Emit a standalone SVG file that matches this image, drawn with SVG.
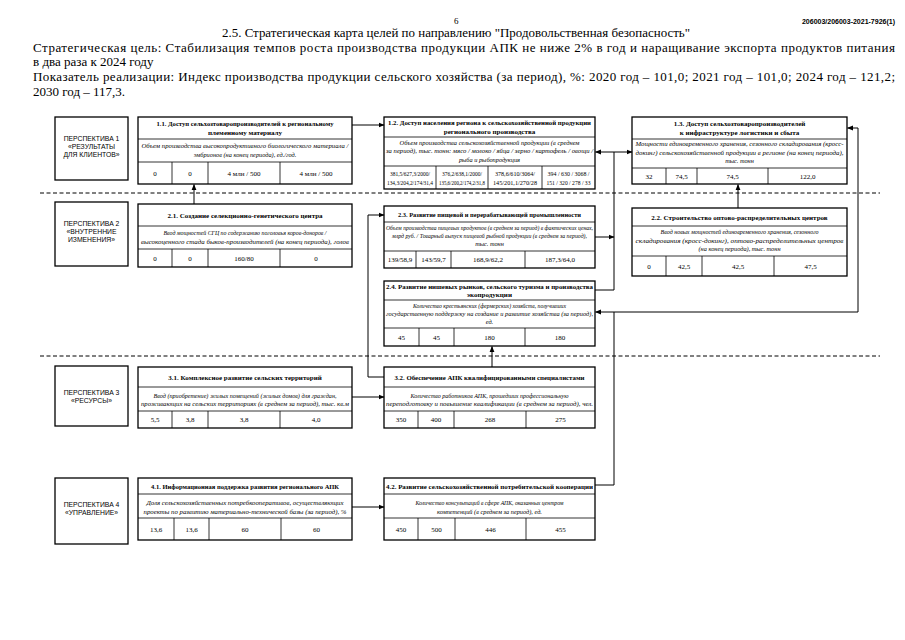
<svg xmlns="http://www.w3.org/2000/svg" width="905" height="640" viewBox="0 0 905 640" font-family="'Liberation Serif', 'DejaVu Serif', serif">
<defs>
<marker id="ah" markerWidth="6" markerHeight="6" refX="5.5" refY="3" orient="auto" markerUnits="userSpaceOnUse"><path d="M0,0.6 L6,3 L0,5.4 Z" fill="#000"/></marker>
</defs>
<style>
.hd{font-family:'Liberation Serif','DejaVu Serif',serif;font-size:13px;fill:#000}
.box{fill:#fff;stroke:#000;stroke-width:1.3}
.dv{stroke:#000;stroke-width:0.8;fill:none}
.t{font-family:'Liberation Serif','DejaVu Serif',serif;font-size:7px;font-weight:bold;text-anchor:middle;fill:#000}
.i{font-family:'Liberation Serif','DejaVu Serif',serif;font-size:6.3px;font-style:italic;text-anchor:middle;fill:#000}
.v{font-family:'Liberation Serif','DejaVu Serif',serif;font-size:7px;text-anchor:middle;fill:#000}
.v2{font-family:'Liberation Serif','DejaVu Serif',serif;font-size:5.8px;text-anchor:middle;fill:#000}
.p{font-family:'Liberation Sans','DejaVu Sans',sans-serif;font-size:6.8px;text-anchor:middle;fill:#000}
.c{fill:none;stroke:#000;stroke-width:1}
.dash{fill:none;stroke:#000;stroke-width:1;stroke-dasharray:4 2.5}
</style>
<rect width="905" height="640" fill="#fff"/>
<g id="header">
<text class="hd" x="454" y="24" style="font-size:9px">6</text>
<text x="895" y="24" text-anchor="end" style="font-family:'Liberation Sans','DejaVu Sans',sans-serif;font-size:7px;font-weight:bold">206003/206003-2021-7926(1)</text>
<text class="hd" x="456" y="37" text-anchor="middle" textLength="468" lengthAdjust="spacingAndGlyphs">2.5. Стратегическая карта целей по направлению "Продовольственная безопасность"</text>
<text class="hd" x="33" y="52" textLength="862" lengthAdjust="spacing">Стратегическая цель: Стабилизация темпов роста производства продукции АПК не ниже 2% в год и наращивание экспорта продуктов питания</text>
<text class="hd" x="33" y="66">в два раза к 2024 году</text>
<text class="hd" x="33" y="81" textLength="862" lengthAdjust="spacing">Показатель реализации: Индекс производства продукции сельского хозяйства (за период), %: 2020 год – 101,0; 2021 год – 101,0; 2024 год – 121,2;</text>
<text class="hd" x="33" y="96">2030 год – 117,3.</text>
</g>
<g id="separators">
<path class="dash" d="M40,193H880"/>
<path class="dash" d="M40,356H880"/>
</g>
<g id="p1">
<rect class="box" x="55" y="117" width="73" height="63"/>
<text class="p" x="91.5" y="141">ПЕРСПЕКТИВА 1</text>
<text class="p" x="91.5" y="149">«РЕЗУЛЬТАТЫ</text>
<text class="p" x="91.5" y="157">ДЛЯ КЛИЕНТОВ»</text>
</g>
<g id="p2">
<rect class="box" x="55" y="202" width="73" height="64"/>
<text class="p" x="91.5" y="226">ПЕРСПЕКТИВА 2</text>
<text class="p" x="91.5" y="234">«ВНУТРЕННИЕ</text>
<text class="p" x="91.5" y="242">ИЗМЕНЕНИЯ»</text>
</g>
<g id="p3">
<rect class="box" x="55" y="366" width="73" height="60"/>
<text class="p" x="91.5" y="395">ПЕРСПЕКТИВА 3</text>
<text class="p" x="91.5" y="403">«РЕСУРСЫ»</text>
</g>
<g id="p4">
<rect class="box" x="55" y="478" width="73" height="66"/>
<text class="p" x="91.5" y="507">ПЕРСПЕКТИВА 4</text>
<text class="p" x="91.5" y="515">«УПРАВЛЕНИЕ»</text>
</g>
<g id="n11">
<rect class="box" x="138" y="117" width="214" height="67"/>
<path class="dv" d="M138,139H352M138,162H352M172,162V184M208,162V184M280,162V184"/>
<text class="t" x="245" y="126" textLength="177" lengthAdjust="spacingAndGlyphs">1.1. Доступ сельхозтоваропроизводителей к региональному</text>
<text class="t" x="245" y="135">племенному материалу</text>
<text class="i" x="245" y="148" textLength="207" lengthAdjust="spacingAndGlyphs">Объем производства высокопродуктивного биологического материала /</text>
<text class="i" x="245" y="157">эмбрионов (на конец периода), ед./год.</text>
<text class="v" x="155" y="176">0</text>
<text class="v" x="190" y="176">0</text>
<text class="v" x="244" y="176">4 млн / 500</text>
<text class="v" x="316" y="176">4 млн / 500</text>
</g>
<g id="n12">
<rect class="box" x="384" y="117" width="211" height="72"/>
<path class="dv" d="M384,137H595M384,166H595M436,166V189M488,166V189M542,166V189"/>
<text class="t" x="489.5" y="125" textLength="203" lengthAdjust="spacingAndGlyphs">1.2. Доступ населения региона к сельскохозяйственной продукции</text>
<text class="t" x="489.5" y="134">регионального производства</text>
<text class="i" x="489.5" y="144.5" textLength="180" lengthAdjust="spacingAndGlyphs">Объем производства сельскохозяйственной продукции (в среднем</text>
<text class="i" x="489.5" y="153" textLength="207" lengthAdjust="spacingAndGlyphs">за период), тыс. тонн: мясо / молоко / яйца / зерно / картофель / овощи /</text>
<text class="i" x="489.5" y="161.5">рыба и рыбопродукция</text>
<text class="v2" x="410" y="176" textLength="40" lengthAdjust="spacingAndGlyphs">381,5/627,3/2000/</text>
<text class="v2" x="410" y="185" textLength="46" lengthAdjust="spacingAndGlyphs">134,3/204,2/174/31,4</text>
<text class="v2" x="462" y="176" textLength="40" lengthAdjust="spacingAndGlyphs">376,2/638,1/2000/</text>
<text class="v2" x="462" y="185" textLength="46" lengthAdjust="spacingAndGlyphs">135,6/200,2/174,2/31,8</text>
<text class="v2" x="515" y="176" textLength="40" lengthAdjust="spacingAndGlyphs">378,6/610/3064/</text>
<text class="v2" x="515" y="185" textLength="44" lengthAdjust="spacingAndGlyphs">145/201,1/270/28</text>
<text class="v2" x="568.5" y="176" textLength="42" lengthAdjust="spacingAndGlyphs">394 / 630 / 3068 /</text>
<text class="v2" x="568.5" y="185" textLength="44" lengthAdjust="spacingAndGlyphs">151 / 320 / 278 / 33</text>
</g>
<g id="n13">
<rect class="box" x="632" y="117" width="215" height="67"/>
<path class="dv" d="M632,139H847M632,168H847M666,168V184M697,168V184M768,168V184"/>
<text class="t" x="739.5" y="125.5">1.3. Доступ сельхозтоваропроизводителей</text>
<text class="t" x="739.5" y="134.5">к инфраструктуре логистики и сбыта</text>
<text class="i" x="739.5" y="146" textLength="208" lengthAdjust="spacingAndGlyphs">Мощности единовременного хранения, сезонного складирования (кросс-</text>
<text class="i" x="739.5" y="154.5" textLength="208" lengthAdjust="spacingAndGlyphs">докинг) сельскохозяйственной продукции в регионе (на конец периода),</text>
<text class="i" x="739.5" y="163">тыс. тонн</text>
<text class="v" x="649" y="178.5">32</text>
<text class="v" x="681.5" y="178.5">74,5</text>
<text class="v" x="732.5" y="178.5">74,5</text>
<text class="v" x="807.5" y="178.5">122,0</text>
</g>
<g id="n21">
<rect class="box" x="138" y="204" width="214" height="63"/>
<path class="dv" d="M138,226H352M138,249H352M172,249V267M208,249V267M280,249V267"/>
<text class="t" x="245" y="218">2.1. Создание селекционно-генетического центра</text>
<text class="i" x="245" y="235" textLength="163" lengthAdjust="spacingAndGlyphs">Ввод мощностей СГЦ по содержанию поголовья коров-доноров /</text>
<text class="i" x="245" y="244" textLength="208" lengthAdjust="spacingAndGlyphs">высокоценного стада быков-производителей (на конец периода),  голов</text>
<text class="v" x="155" y="261">0</text>
<text class="v" x="190" y="261">0</text>
<text class="v" x="244" y="261">160/80</text>
<text class="v" x="316" y="261">0</text>
</g>
<g id="n23">
<rect class="box" x="384" y="206" width="211" height="62"/>
<path class="dv" d="M384,222H595M384,251H595M416,251V268M451,251V268M525,251V268"/>
<text class="t" x="489.5" y="216.5" textLength="183" lengthAdjust="spacingAndGlyphs">2.3. Развитие пищевой и перерабатывающей промышленности</text>
<text class="i" x="489.5" y="230" textLength="207" lengthAdjust="spacingAndGlyphs">Объем производства пищевых продуктов (в среднем за период) в фактических ценах,</text>
<text class="i" x="489.5" y="238" textLength="195" lengthAdjust="spacingAndGlyphs">млрд руб. / Товарный выпуск пищевой рыбной продукции (в среднем за период),</text>
<text class="i" x="489.5" y="246">тыс. тонн</text>
<text class="v" x="400" y="262">139/58,9</text>
<text class="v" x="433.5" y="262">143/59,7</text>
<text class="v" x="488" y="262">168,9/62,2</text>
<text class="v" x="560" y="262">187,3/64,0</text>
</g>
<g id="n22">
<rect class="box" x="632" y="208" width="215" height="68"/>
<path class="dv" d="M632,226H847M632,256H847M666,256V276M702,256V276M774,256V276"/>
<text class="t" x="739.5" y="219.5">2.2. Строительство оптово-распределительных центров</text>
<text class="i" x="739.5" y="234" textLength="158" lengthAdjust="spacingAndGlyphs">Ввод новых мощностей единовременного хранения, сезонного</text>
<text class="i" x="739.5" y="242.5" textLength="208" lengthAdjust="spacingAndGlyphs">складирования (кросс-докинг), оптово-распределительных центров</text>
<text class="i" x="739.5" y="251">(на конец периода), тыс. тонн</text>
<text class="v" x="649" y="268.5">0</text>
<text class="v" x="684" y="268.5">42,5</text>
<text class="v" x="738" y="268.5">42,5</text>
<text class="v" x="810.5" y="268.5">47,5</text>
</g>
<g id="n24">
<rect class="box" x="384" y="281" width="211" height="65"/>
<path class="dv" d="M384,300H595M384,328H595M419,328V346M454,328V346M525,328V346"/>
<text class="t" x="489.5" y="288.5" textLength="207" lengthAdjust="spacingAndGlyphs">2.4. Развитие нишевых рынков, сельского туризма и производства</text>
<text class="t" x="489.5" y="297">экопродукции</text>
<text class="i" x="489.5" y="307.5" textLength="153" lengthAdjust="spacingAndGlyphs">Количество крестьянских (фермерских) хозяйств, получивших</text>
<text class="i" x="489.5" y="315.5" textLength="207" lengthAdjust="spacingAndGlyphs">государственную поддержку на создание и развитие хозяйства (за период),</text>
<text class="i" x="489.5" y="324">ед.</text>
<text class="v" x="401.5" y="340">45</text>
<text class="v" x="436.5" y="340">45</text>
<text class="v" x="489.5" y="340">180</text>
<text class="v" x="560" y="340">180</text>
</g>
<g id="n31">
<rect class="box" x="138" y="367" width="214" height="61"/>
<path class="dv" d="M138,387H352M138,411H352M172,411V428M208,411V428M280,411V428"/>
<text class="t" x="245" y="380">3.1. Комплексное развитие сельских территорий</text>
<text class="i" x="245" y="397.5" textLength="183" lengthAdjust="spacingAndGlyphs">Ввод (приобретение) жилых помещений (жилых домов) для граждан,</text>
<text class="i" x="245" y="406" textLength="208" lengthAdjust="spacingAndGlyphs">проживающих на сельских территориях (в среднем за период), тыс. кв.м</text>
<text class="v" x="155" y="422">5,5</text>
<text class="v" x="190" y="422">3,8</text>
<text class="v" x="244" y="422">3,8</text>
<text class="v" x="316" y="422">4,0</text>
</g>
<g id="n32">
<rect class="box" x="384" y="367" width="211" height="61"/>
<path class="dv" d="M384,387H595M384,411H595M418,411V428M454,411V428M526,411V428"/>
<text class="t" x="489.5" y="380" textLength="190" lengthAdjust="spacingAndGlyphs">3.2. Обеспечение АПК квалифицированными специалистами</text>
<text class="i" x="489.5" y="397.5" textLength="158" lengthAdjust="spacingAndGlyphs">Количество работников АПК, прошедших профессиональную</text>
<text class="i" x="489.5" y="406" textLength="207" lengthAdjust="spacingAndGlyphs">переподготовку и повышение квалификации (в среднем за период), чел.</text>
<text class="v" x="401" y="422">350</text>
<text class="v" x="436" y="422">400</text>
<text class="v" x="490" y="422">268</text>
<text class="v" x="560.5" y="422">275</text>
</g>
<g id="n41">
<rect class="box" x="138" y="478" width="214" height="62"/>
<path class="dv" d="M138,494H352M138,518H352M174,518V540M209,518V540M281,518V540"/>
<text class="t" x="245" y="488.5" textLength="188" lengthAdjust="spacingAndGlyphs">4.1. Информационная поддержка развития регионального АПК</text>
<text class="i" x="245" y="505" textLength="197" lengthAdjust="spacingAndGlyphs">Доля сельскохозяйственных  потребкооперативов, осуществляющих</text>
<text class="i" x="245" y="514" textLength="203" lengthAdjust="spacingAndGlyphs">проекты по развитию материально-технической базы (за период), %</text>
<text class="v" x="156" y="532">13,6</text>
<text class="v" x="191.5" y="532">13,6</text>
<text class="v" x="245" y="532">60</text>
<text class="v" x="316.5" y="532">60</text>
</g>
<g id="n42">
<rect class="box" x="384" y="478" width="211" height="62"/>
<path class="dv" d="M384,494H595M384,518H595M418,518V540M455,518V540M526,518V540"/>
<text class="t" x="489.5" y="488.5" textLength="207" lengthAdjust="spacingAndGlyphs">4.2. Развитие сельскохозяйственной потребительской кооперации</text>
<text class="i" x="489.5" y="505" textLength="148" lengthAdjust="spacingAndGlyphs">Количество консультаций в сфере АПК, оказанных центром</text>
<text class="i" x="489.5" y="514">компетенций (в среднем за период), ед.</text>
<text class="v" x="401" y="532">450</text>
<text class="v" x="436.5" y="532">500</text>
<text class="v" x="490.5" y="532">446</text>
<text class="v" x="560.5" y="532">455</text>
</g>
<g id="connectors">
<path class="c" d="M352,125H384" marker-end="url(#ah)"/>
<path class="c" d="M194,204V184.5" marker-end="url(#ah)"/>
<path class="c" d="M595,290H614V152"/>
<path class="c" d="M614,152H595.5" marker-end="url(#ah)"/>
<path class="c" d="M614,152H632" marker-end="url(#ah)"/>
<path class="c" d="M595,237H614" marker-end="url(#ah)"/>
<path class="c" d="M738,208V184.5" marker-end="url(#ah)"/>
<path class="c" d="M384,377H368V215H384" marker-end="url(#ah)"/>
<path class="c" d="M492,367V346.5" marker-end="url(#ah)"/>
<path class="c" d="M352,397H384" marker-end="url(#ah)"/>
<path class="c" d="M352,507H384" marker-end="url(#ah)"/>
<path class="c" d="M595,485H614V312H595.5" marker-end="url(#ah)"/>
<path class="c" d="M614,312H858V128H847.5" marker-end="url(#ah)"/>
</g>
</svg>
